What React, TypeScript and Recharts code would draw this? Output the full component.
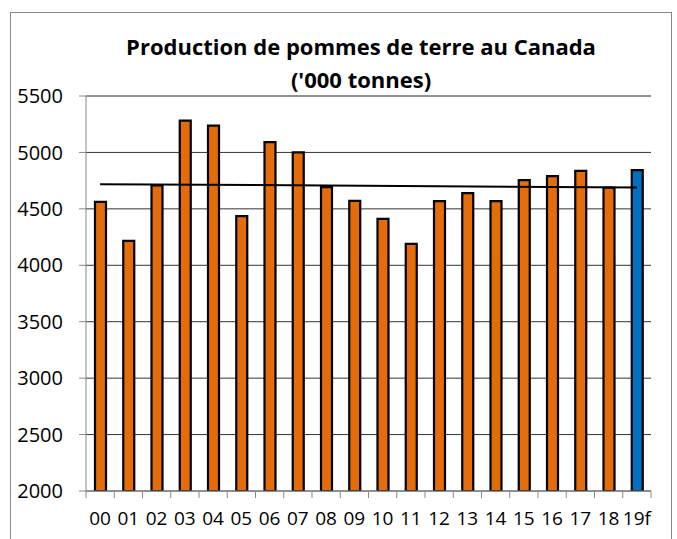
import { ComposedChart, Bar, Line, XAxis, YAxis, CartesianGrid, Cell, ReferenceLine } from 'recharts';

const years = ['00', '01', '02', '03', '04', '05', '06', '07', '08', '09', '10', '11', '12', '13', '14', '15', '16', '17', '18', '19f'];
const production = [4562, 4216, 4707, 5281, 5237, 4435, 5092, 5000, 4692, 4571, 4411, 4189, 4568, 4639, 4568, 4754, 4790, 4837, 4689, 4843];
// trend line end points (first and last year)
const trend = [4719, null, null, null, null, null, null, null, null, null, null, null, null, null, null, null, null, null, null, 4689];
const yTicks = [2000, 2500, 3000, 3500, 4000, 4500, 5000, 5500];

const ORANGE = '#E46C0A';
const BLUE = '#0070C0';
const FONT = '"Open Sans", sans-serif';

const W = 677;
const H = 539;
const PLOT_LEFT = 86;
const PLOT_RIGHT = 651;
const BAND = (PLOT_RIGHT - PLOT_LEFT) / years.length;

const data = years.map((y, i) => ({ year: y, value: production[i], trend: trend[i] }));

function YearTick({ x, y, payload, index }: { x?: number; y?: number; payload?: { value: string }; index?: number }) {
  const cx = x ?? 0;
  const cy = y ?? 0;
  const last = index === years.length - 1;
  return (
    <g>
      <line x1={cx - BAND / 2} x2={cx - BAND / 2} y1={cy} y2={cy + 7} stroke="#888" />
      {last && <line x1={cx + BAND / 2} x2={cx + BAND / 2} y1={cy} y2={cy + 7} stroke="#888" />}
      <text x={cx} y={cy + 34} textAnchor="middle" fontFamily={FONT} fontSize={19} fill="#000">
        {payload?.value}
      </text>
    </g>
  );
}

export default function App() {
  return (
    <div style={{ position: 'absolute', left: 0, top: 0, width: W, height: H, overflow: 'hidden', background: '#fff' }}>
      <div
        style={{
          position: 'absolute',
          left: 10,
          top: 12,
          width: 662,
          height: 560,
          border: '1px solid #888',
          boxSizing: 'border-box',
        }}
      />
      <div
        style={{
          position: 'absolute',
          left: 0,
          top: 30,
          width: 722,
          textAlign: 'center',
          fontFamily: FONT,
          fontWeight: 700,
          fontSize: 22,
          lineHeight: '33px',
          color: '#000',
        }}
      >
        Production de pommes de terre au Canada
        <br />
        ('000 tonnes)
      </div>
      <div style={{ position: 'absolute', left: 0, top: 0 }}>
        <ComposedChart width={W} height={H} data={data} margin={{ top: 96, right: W - PLOT_RIGHT, left: 0, bottom: 0 }} barSize={11}>
          <CartesianGrid vertical={false} stroke="#333" />
          <XAxis
            dataKey="year"
            height={48}
            tickSize={0}
            tickMargin={0}
            tickLine={false}
            axisLine={{ stroke: '#888' }}
            tick={<YearTick />}
            interval={0}
          />
          <YAxis
            width={PLOT_LEFT}
            domain={[2000, 5500]}
            ticks={yTicks}
            type="number"
            allowDataOverflow
            tickSize={7}
            tickMargin={16}
            axisLine={{ stroke: '#888' }}
            tickLine={{ stroke: '#888' }}
            tick={{ fill: '#000', fontFamily: FONT, fontSize: 20 }}
          />
          <YAxis yAxisId="r" orientation="right" width={0} tick={false} tickLine={false} axisLine={{ stroke: '#888' }} />
          <ReferenceLine y={5500} stroke="#888" />
          <Bar dataKey="value" stroke="#000" strokeWidth={2.2} isAnimationActive={false}>
            {data.map((d, i) => (
              <Cell key={d.year} fill={i === data.length - 1 ? BLUE : ORANGE} />
            ))}
          </Bar>
          <Line dataKey="trend" stroke="#000" strokeWidth={2} dot={false} connectNulls isAnimationActive={false} />
        </ComposedChart>
      </div>
    </div>
  );
}
